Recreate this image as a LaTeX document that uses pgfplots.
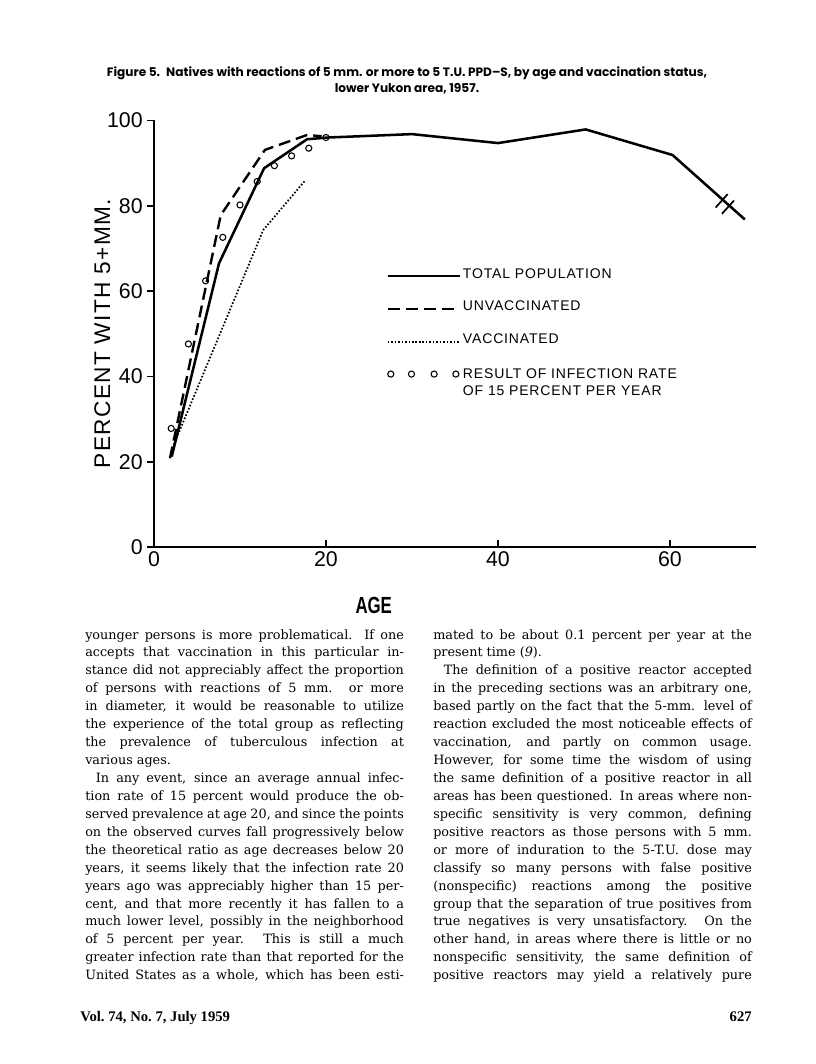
\documentclass[border=0pt]{standalone}
\usepackage{fontspec}
\setmainfont{DejaVu Serif}
\newfontfamily\lettering[LetterSpace=6]{Liberation Sans}
\newfontfamily\ticksfont{Liberation Sans}
\newfontfamily\titlefont{Poppins}
\newfontfamily\footfont{Liberation Serif}
\usepackage{pgfplots}
\pgfplotsset{compat=1.18}

% body text helpers: justified line, indented justified line, last line
\newlength\colw \setlength\colw{239pt}
\newlength\ind \setlength\ind{8pt}
\newcommand\Jl[1]{\makebox[\colw][s]{#1}\par}
\newcommand\Il[1]{\hspace*{\ind}\makebox[\dimexpr\colw-\ind\relax][s]{#1}\par}
\newcommand\Ll[1]{#1\par}
\newcommand\bodyfont{\fontsize{9.6}{13.45}\selectfont}

\begin{document}
\begin{tikzpicture}
\begin{scope}[x=0.75pt,y=-0.75pt]
\fill[white] (0,0) rectangle (816,1064);

% figure title
\node[anchor=base, inner sep=0] at (407,76) {\titlefont\bfseries\fontsize{9.1}{10}\selectfont
  Figure 5.\enspace Natives with reactions of 5 mm. or more to 5 T.U. PPD–S, by age and vaccination status,};
\node[anchor=base, inner sep=0] at (407,92) {\titlefont\bfseries\fontsize{9.1}{10}\selectfont
  lower Yukon area, 1957.};

% left column
\node[anchor=base west, inner sep=0] at (85,639) {\parbox[t]{\colw}{\bodyfont\parindent=0pt
\Jl{younger persons is more problematical.  If one}
\Jl{accepts that vaccination in this particular in-}
\Jl{stance did not appreciably affect the proportion}
\Jl{of persons with reactions of 5 mm. or more}
\Jl{in diameter, it would be reasonable to utilize}
\Jl{the experience of the total group as reflecting}
\Jl{the prevalence of tuberculous infection at}
\Ll{various ages.}
\Il{In any event, since an average annual infec-}
\Jl{tion rate of 15 percent would produce the ob-}
\Jl{served prevalence at age 20, and since the points}
\Jl{on the observed curves fall progressively below}
\Jl{the theoretical ratio as age decreases below 20}
\Jl{years, it seems likely that the infection rate 20}
\Jl{years ago was appreciably higher than 15 per-}
\Jl{cent, and that more recently it has fallen to a}
\Jl{much lower level, possibly in the neighborhood}
\Jl{of 5 percent per year.  This is still a much}
\Jl{greater infection rate than that reported for the}
\Jl{United States as a whole, which has been esti-}
}};

% right column
\node[anchor=base west, inner sep=0] at (433,639) {\parbox[t]{\colw}{\bodyfont\parindent=0pt
\Jl{mated to be about 0.1 percent per year at the}
\Ll{present time (\textit{9}).}
\Il{The definition of a positive reactor accepted}
\Jl{in the preceding sections was an arbitrary one,}
\Jl{based partly on the fact that the 5-mm. level of}
\Jl{reaction excluded the most noticeable effects of}
\Jl{vaccination, and partly on common usage.}
\Jl{However, for some time the wisdom of using}
\Jl{the same definition of a positive reactor in all}
\Jl{areas has been questioned.  In areas where non-}
\Jl{specific sensitivity is very common, defining}
\Jl{positive reactors as those persons with 5 mm.}
\Jl{or more of induration to the 5-T.U. dose may}
\Jl{classify so many persons with false positive}
\Jl{(nonspecific) reactions among the positive}
\Jl{group that the separation of true positives from}
\Jl{true negatives is very unsatisfactory.  On the}
\Jl{other hand, in areas where there is little or no}
\Jl{nonspecific sensitivity, the same definition of}
\Jl{positive reactors may yield a relatively pure}
}};

% running foot
\node[anchor=base west, inner sep=0] at (80,1021) {\footfont\bfseries\fontsize{11}{13}\selectfont Vol.\ 74, No.\ 7, July 1959};
\node[anchor=base east, inner sep=0] at (752,1021) {\footfont\bfseries\fontsize{11}{13}\selectfont 627};
\end{scope}

\begin{axis}[
  at={(115.5pt,-410.25pt)}, anchor=south west,
  scale only axis, width=451.5pt, height=319.9pt,
  xmin=0, xmax=70, ymin=0, ymax=100,
  axis lines=left,
  axis line style={-, line width=1.6pt},
  xtick={0,20,40,60}, ytick={0,20,40,60,80,100},
  xtick align=inside, ytick align=outside,
  major tick length=5pt,
  tick style={line width=1.3pt, black},
  /pgf/number format/assume math mode=true,
  ticklabel style={font=\ticksfont\fontsize{16}{16}\selectfont},
  xlabel={\scalebox{0.72}[1]{AGE}},
  xlabel style={at={(axis description cs:0.365,-0.136)}, anchor=center, inner sep=0pt,
    font=\ticksfont\bfseries\fontsize{17.5}{18}\selectfont},
  ylabel={PERCENT WITH 5+MM.},
  ylabel style={at={(axis description cs:-0.086,0.5)}, anchor=center, inner sep=0pt,
    font=\lettering\fontsize{17}{18}\selectfont},
  legend style={at={(axis cs:27,65.4)}, anchor=north west, draw=none, fill=none,
    inner sep=0pt, row sep=15.8pt,
    font=\lettering\fontsize{10.5}{12.75}\selectfont,
    nodes={inner xsep=1.5pt, inner ysep=0pt},
    cells={anchor=base west}},
  legend image code/.code={\draw[#1] (0pt,1.5pt) -- (54pt,1.5pt);},
  clip=false,
]
\addplot[black, line width=1.9pt] coordinates {
  (2.06,21.2) (7.56,66.5) (12.8,88.8) (17.8,95.6) (20.2,96.0) (30,96.8)
  (40,94.7) (50.2,97.9) (60.3,91.9) (68.7,76.8)
};
\addlegendentry{TOTAL POPULATION}

\addplot[black, line width=1.8pt, dash pattern=on 9pt off 4.5pt] coordinates {
  (1.86,20.8) (7.76,77.8) (12.9,93.1) (17.8,96.6) (19.5,96.3)
};
\addlegendentry{UNVACCINATED}

\addplot[black, line width=1.3pt, dash pattern=on 1.2pt off 1.4pt] coordinates {
  (2.3,24.0) (12.7,74.3) (17.6,86.0)
};
\addlegendentry{VACCINATED}

\addplot[only marks, mark=o, mark size=2.3pt, mark options={line width=0.8pt, black},
  legend image code/.code={
    \foreach \xx in {2.3,17.8,34.8,51.1}{\draw[black, line width=0.8pt] (\xx pt,3.5pt) circle (2.3pt);}
  }] coordinates {
  (2,27.8) (4,47.6) (6,62.4) (8,72.6) (10,80.2) (12,85.7) (14,89.4) (16,91.7) (18,93.5) (20,96.0)
};
\addlegendentry{\begin{tabular}[t]{@{}l@{}}RESULT OF INFECTION RATE\\OF 15 PERCENT PER YEAR\end{tabular}}

% break in the total-population curve
\draw[line width=1.3pt] (axis cs:66.71,82.74) -- (axis cs:65.31,79.60);
\draw[line width=1.3pt] (axis cs:67.44,81.24) -- (axis cs:66.04,78.10);
\end{axis}
\end{tikzpicture}
\end{document}
